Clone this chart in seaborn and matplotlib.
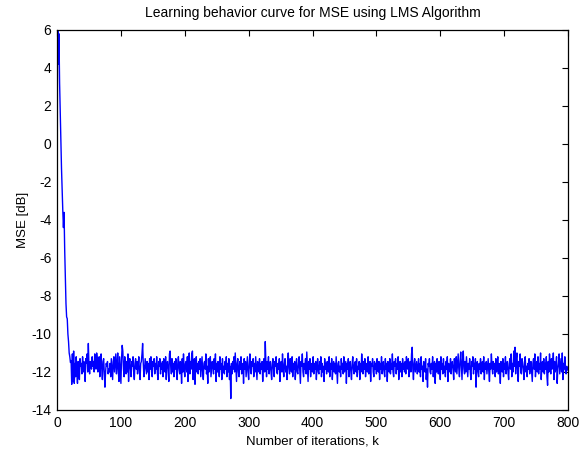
"""
LMS 적응 필터 학습 곡선 (MSE [dB]) 재현
"""

import numpy as np
import pandas as pd
import matplotlib
matplotlib.use("Agg")
import matplotlib.pyplot as plt
import seaborn as sns

# ── 1. 데이터 ───────────────────────────────────
# 초기 수렴 구간 (k = 0..22)
transient = [-2.7, 7.5, 4.2, 5.8, 3.2, 1.8, 0.2, -1.3, -2.5, -3.5, -4.4, -3.6,
             -5.6, -7.1, -8.4, -9.1, -9.2, -10.0, -10.4, -11.0, -11.2, -11.5, -11.4]

# 정상 상태 잡음 구간 (k = 23..799)
steady = [
    -12.65, -11.05, -12.5, -10.9, -12.6, -11.55, -12.25, -11.2, -12.0, -12.6, -11.45, -11.85, -12.4, -11.3, -11.7, -11.55, -12.1, -11.2, -12.0, -11.45,
    -11.85, -12.5, -11.3, -11.55, -11.05, -12.0, -10.5, -11.7, -12.1, -11.45, -11.55, -11.85, -11.2, -11.7, -11.45, -12.0, -11.05, -11.55, -11.85, -11.0,
    -11.3, -12.0, -11.55, -11.2, -12.25, -11.7, -11.05, -11.85, -12.4, -11.45, -11.3, -12.1, -12.8, -12.0, -11.55, -11.7, -11.45, -12.1, -11.85, -12.0,
    -11.55, -12.25, -11.3, -11.85, -12.4, -11.45, -11.2, -12.0, -11.55, -11.05, -12.1, -11.7, -11.0, -12.0, -12.5, -11.2, -11.85, -12.6, -11.3, -10.6,
    -10.9, -11.85, -12.25, -11.2, -11.7, -12.1, -11.45, -12.0, -11.05, -12.5, -11.55, -11.3, -11.85, -12.25, -11.45, -11.7, -11.2, -12.0, -12.4, -11.55,
    -11.3, -11.85, -11.45, -12.1, -11.7, -11.2, -12.0, -12.4, -11.55, -11.45, -11.05, -10.5, -11.55, -12.25, -11.85, -11.3, -11.7, -12.1, -11.45, -12.0,
    -11.55, -12.4, -11.3, -11.85, -11.2, -12.0, -12.25, -11.45, -11.7, -11.3, -12.1, -11.55, -11.85, -11.2, -12.0, -12.4, -11.45, -11.7, -11.3, -12.1,
    -11.55, -11.85, -11.45, -12.25, -11.3, -11.7, -12.0, -11.2, -12.4, -11.55, -11.45, -11.85, -12.5, -11.05, -10.9, -11.7, -12.1, -11.3, -12.0, -11.55,
    -12.25, -11.45, -11.85, -11.3, -12.0, -12.4, -11.55, -11.2, -11.85, -12.1, -11.45, -11.7, -12.6, -11.3, -12.0, -11.05, -11.85, -12.25, -11.55, -11.45,
    -12.0, -11.2, -12.5, -11.55, -11.0, -12.1, -11.45, -11.85, -11.05, -10.9, -12.4, -11.55, -11.3, -12.65, -11.7, -11.2, -12.0, -11.55, -12.1, -11.45,
    -11.85, -11.3, -12.25, -11.7, -11.2, -12.0, -12.4, -11.55, -11.45, -11.85, -11.05, -12.1, -11.7, -12.6, -11.3, -12.0, -11.55, -11.2, -12.25, -11.85,
    -11.45, -11.7, -12.1, -11.3, -11.85, -11.05, -12.5, -11.55, -12.0, -11.45, -11.7, -12.25, -11.2, -11.85, -11.55, -12.4, -11.3, -12.0, -11.7, -12.1,
    -11.45, -11.85, -11.2, -12.25, -11.55, -12.0, -11.3, -12.4, -11.7, -13.4, -11.55, -12.1, -11.45, -11.85, -11.2, -12.0, -11.0, -11.7, -12.5, -11.55,
    -11.3, -12.0, -12.25, -11.45, -11.85, -11.2, -12.1, -11.7, -11.55, -12.6, -11.3, -11.85, -11.45, -12.25, -11.7, -11.2, -12.0, -12.4, -11.55, -11.05,
    -11.85, -12.1, -11.45, -11.7, -11.3, -12.25, -11.55, -12.0, -11.2, -11.85, -12.4, -11.45, -11.7, -12.0, -11.3, -12.1, -11.55, -11.85, -11.45, -12.5,
    -11.7, -11.3, -12.0, -10.4, -11.55, -12.25, -11.45, -11.85, -11.2, -12.1, -11.7, -11.45, -12.0, -12.4, -11.55, -11.3, -11.85, -12.25, -11.45, -11.7,
    -11.2, -12.0, -12.1, -11.55, -11.85, -11.3, -12.5, -11.7, -11.45, -12.0, -11.05, -11.85, -12.25, -11.55, -11.3, -12.0, -11.7, -12.4, -11.45, -11.0,
    -11.85, -12.1, -11.3, -11.7, -12.0, -11.2, -12.25, -11.55, -11.85, -11.45, -12.4, -11.7, -11.3, -12.0, -12.1, -11.55, -11.2, -11.85, -12.6, -11.45,
    -11.7, -11.05, -12.0, -12.25, -11.55, -11.85, -11.3, -12.1, -10.95, -11.7, -12.5, -11.45, -11.85, -11.3, -12.25, -11.7, -11.55, -12.0, -11.2, -12.1,
    -11.55, -11.85, -11.45, -12.4, -11.7, -11.3, -12.0, -12.1, -11.45, -11.85, -11.2, -12.25, -11.55, -12.0, -11.7, -12.5, -11.3, -11.85, -11.55, -12.1,
    -11.45, -11.7, -12.0, -11.2, -12.25, -11.55, -11.85, -11.3, -12.4, -11.7, -11.45, -12.0, -11.55, -12.1, -11.2, -11.85, -12.6, -11.55, -11.45, -12.0,
    -11.7, -12.25, -11.3, -11.85, -11.55, -12.1, -11.2, -12.0, -11.7, -11.45, -12.6, -11.55, -11.85, -11.3, -12.25, -11.7, -11.45, -12.0, -12.4, -11.55,
    -11.2, -11.85, -12.1, -11.55, -11.45, -12.0, -11.3, -12.25, -11.7, -11.85, -11.45, -12.4, -11.55, -12.0, -11.05, -11.7, -12.1, -11.45, -11.85, -11.3,
    -12.25, -11.7, -11.55, -12.0, -11.2, -12.1, -11.85, -11.45, -12.5, -11.55, -11.7, -11.3, -12.0, -12.25, -11.45, -11.85, -11.55, -12.1, -11.3, -11.7,
    -12.0, -11.45, -12.4, -11.55, -11.85, -11.2, -12.1, -11.7, -11.45, -12.0, -12.25, -11.3, -11.85, -11.55, -12.5, -11.45, -11.7, -12.0, -11.3, -12.1,
    -11.55, -11.85, -11.05, -12.0, -12.25, -11.45, -11.7, -11.3, -12.1, -11.55, -11.85, -11.2, -12.4, -11.7, -11.45, -12.0, -11.55, -12.25, -11.3, -11.85,
    -11.55, -12.0, -11.45, -12.1, -11.2, -11.7, -11.85, -11.3, -12.25, -11.55, -11.45, -12.0, -11.05, -10.7, -11.85, -12.4, -11.55, -11.3, -12.0, -11.7,
    -11.45, -12.1, -11.85, -11.3, -12.0, -11.55, -12.25, -11.2, -11.85, -11.7, -12.5, -11.45, -11.55, -12.0, -11.3, -12.4, -11.85, -12.8, -11.55, -11.7,
    -11.3, -12.0, -12.1, -11.55, -11.85, -11.2, -12.25, -11.7, -11.45, -12.6, -11.55, -12.0, -11.3, -11.85, -12.1, -11.45, -11.7, -12.4, -11.2, -11.85,
    -11.55, -12.1, -11.3, -12.0, -11.7, -12.25, -11.45, -11.85, -11.2, -12.5, -11.55, -11.7, -12.0, -11.3, -12.1, -11.55, -11.45, -11.85, -12.4, -11.3,
    -11.7, -12.0, -11.2, -12.1, -11.55, -11.05, -11.85, -12.25, -11.45, -10.95, -11.7, -12.4, -11.3, -10.9, -11.85, -12.1, -11.45, -12.0, -11.2, -11.7,
    -12.25, -11.55, -11.85, -11.3, -12.0, -12.4, -11.45, -11.7, -11.2, -12.1, -11.55, -11.85, -11.3, -12.8, -11.7, -11.45, -12.0, -12.25, -11.55, -11.85,
    -11.3, -12.1, -11.7, -11.45, -12.0, -11.2, -12.4, -11.55, -11.85, -11.45, -12.1, -11.7, -11.3, -12.0, -12.5, -11.55, -11.85, -11.05, -11.7, -12.1,
    -11.45, -11.85, -11.55, -12.25, -11.3, -12.0, -11.7, -11.2, -12.1, -11.55, -11.85, -12.6, -11.45, -11.7, -12.0, -11.3, -12.25, -11.55, -11.85, -11.2,
    -12.1, -11.7, -11.45, -12.0, -12.4, -11.55, -11.3, -11.85, -11.05, -12.25, -11.55, -12.0, -10.9, -11.7, -10.7, -12.1, -11.3, -11.0, -11.85, -12.5,
    -11.45, -11.7, -11.05, -12.0, -12.1, -11.3, -11.55, -11.85, -12.4, -11.45, -11.2, -12.0, -11.7, -12.25, -11.55, -11.85, -11.3, -12.1, -11.7, -11.45,
    -12.0, -12.5, -11.55, -11.3, -11.85, -11.05, -12.25, -11.7, -11.45, -12.0, -11.2, -12.1, -11.55, -11.85, -11.0, -12.4, -11.7, -11.45, -12.0, -11.3,
    -12.1, -11.55, -11.85, -11.2, -12.25, -12.7, -11.45, -12.0, -11.05, -11.7, -12.1, -11.3, -11.85, -11.55, -11.0, -12.4, -11.45, -12.0, -11.7, -11.2,
    -12.6, -11.85, -11.55, -11.05, -12.1, -11.7, -11.3, -12.0, -11.0, -12.4, -11.55, -11.85, -11.2, -12.0, -12.1, -11.7, -11.9,
]

mse_db = transient + steady
df = pd.DataFrame({"k": np.arange(len(mse_db)), "mse": mse_db})

x_ticks = list(range(0, 801, 100))
y_ticks = list(range(-14, 7, 2))

# ── 2. 시각화 (MATLAB 스타일) ──────────────────────────
sns.set_style("white")
plt.rcParams["font.family"] = ["Liberation Sans", "DejaVu Sans"]
plt.rcParams["axes.unicode_minus"] = False
plt.rcParams["text.color"] = "black"
plt.rcParams["axes.labelcolor"] = "black"

fig = plt.figure(figsize=(5.82, 4.54), dpi=100)
ax = fig.add_axes([0.098, 0.097, 0.878, 0.837])

sns.lineplot(data=df, x="k", y="mse", color="#0000ff", linewidth=1.0, ax=ax)

ax.set_xlim(0, 800)
ax.set_ylim(-14, 6)
ax.set_xticks(x_ticks)
ax.set_yticks(y_ticks)
ax.tick_params(direction="in", length=4, width=0.8, top=True, right=True,
               labelsize=10, colors="black", pad=4)
for spine in ax.spines.values():
    spine.set_visible(True)
    spine.set_color("black")
    spine.set_linewidth(0.9)

ax.set_title("Learning behavior curve for MSE using LMS Algorithm", fontsize=10, pad=9, color="black")
ax.set_xlabel("Number of iterations, k", fontsize=9.5, labelpad=4, color="black")
ax.set_ylabel("MSE [dB]", fontsize=9.5, labelpad=2, color="black")

fig.savefig("out.png", dpi=100)
